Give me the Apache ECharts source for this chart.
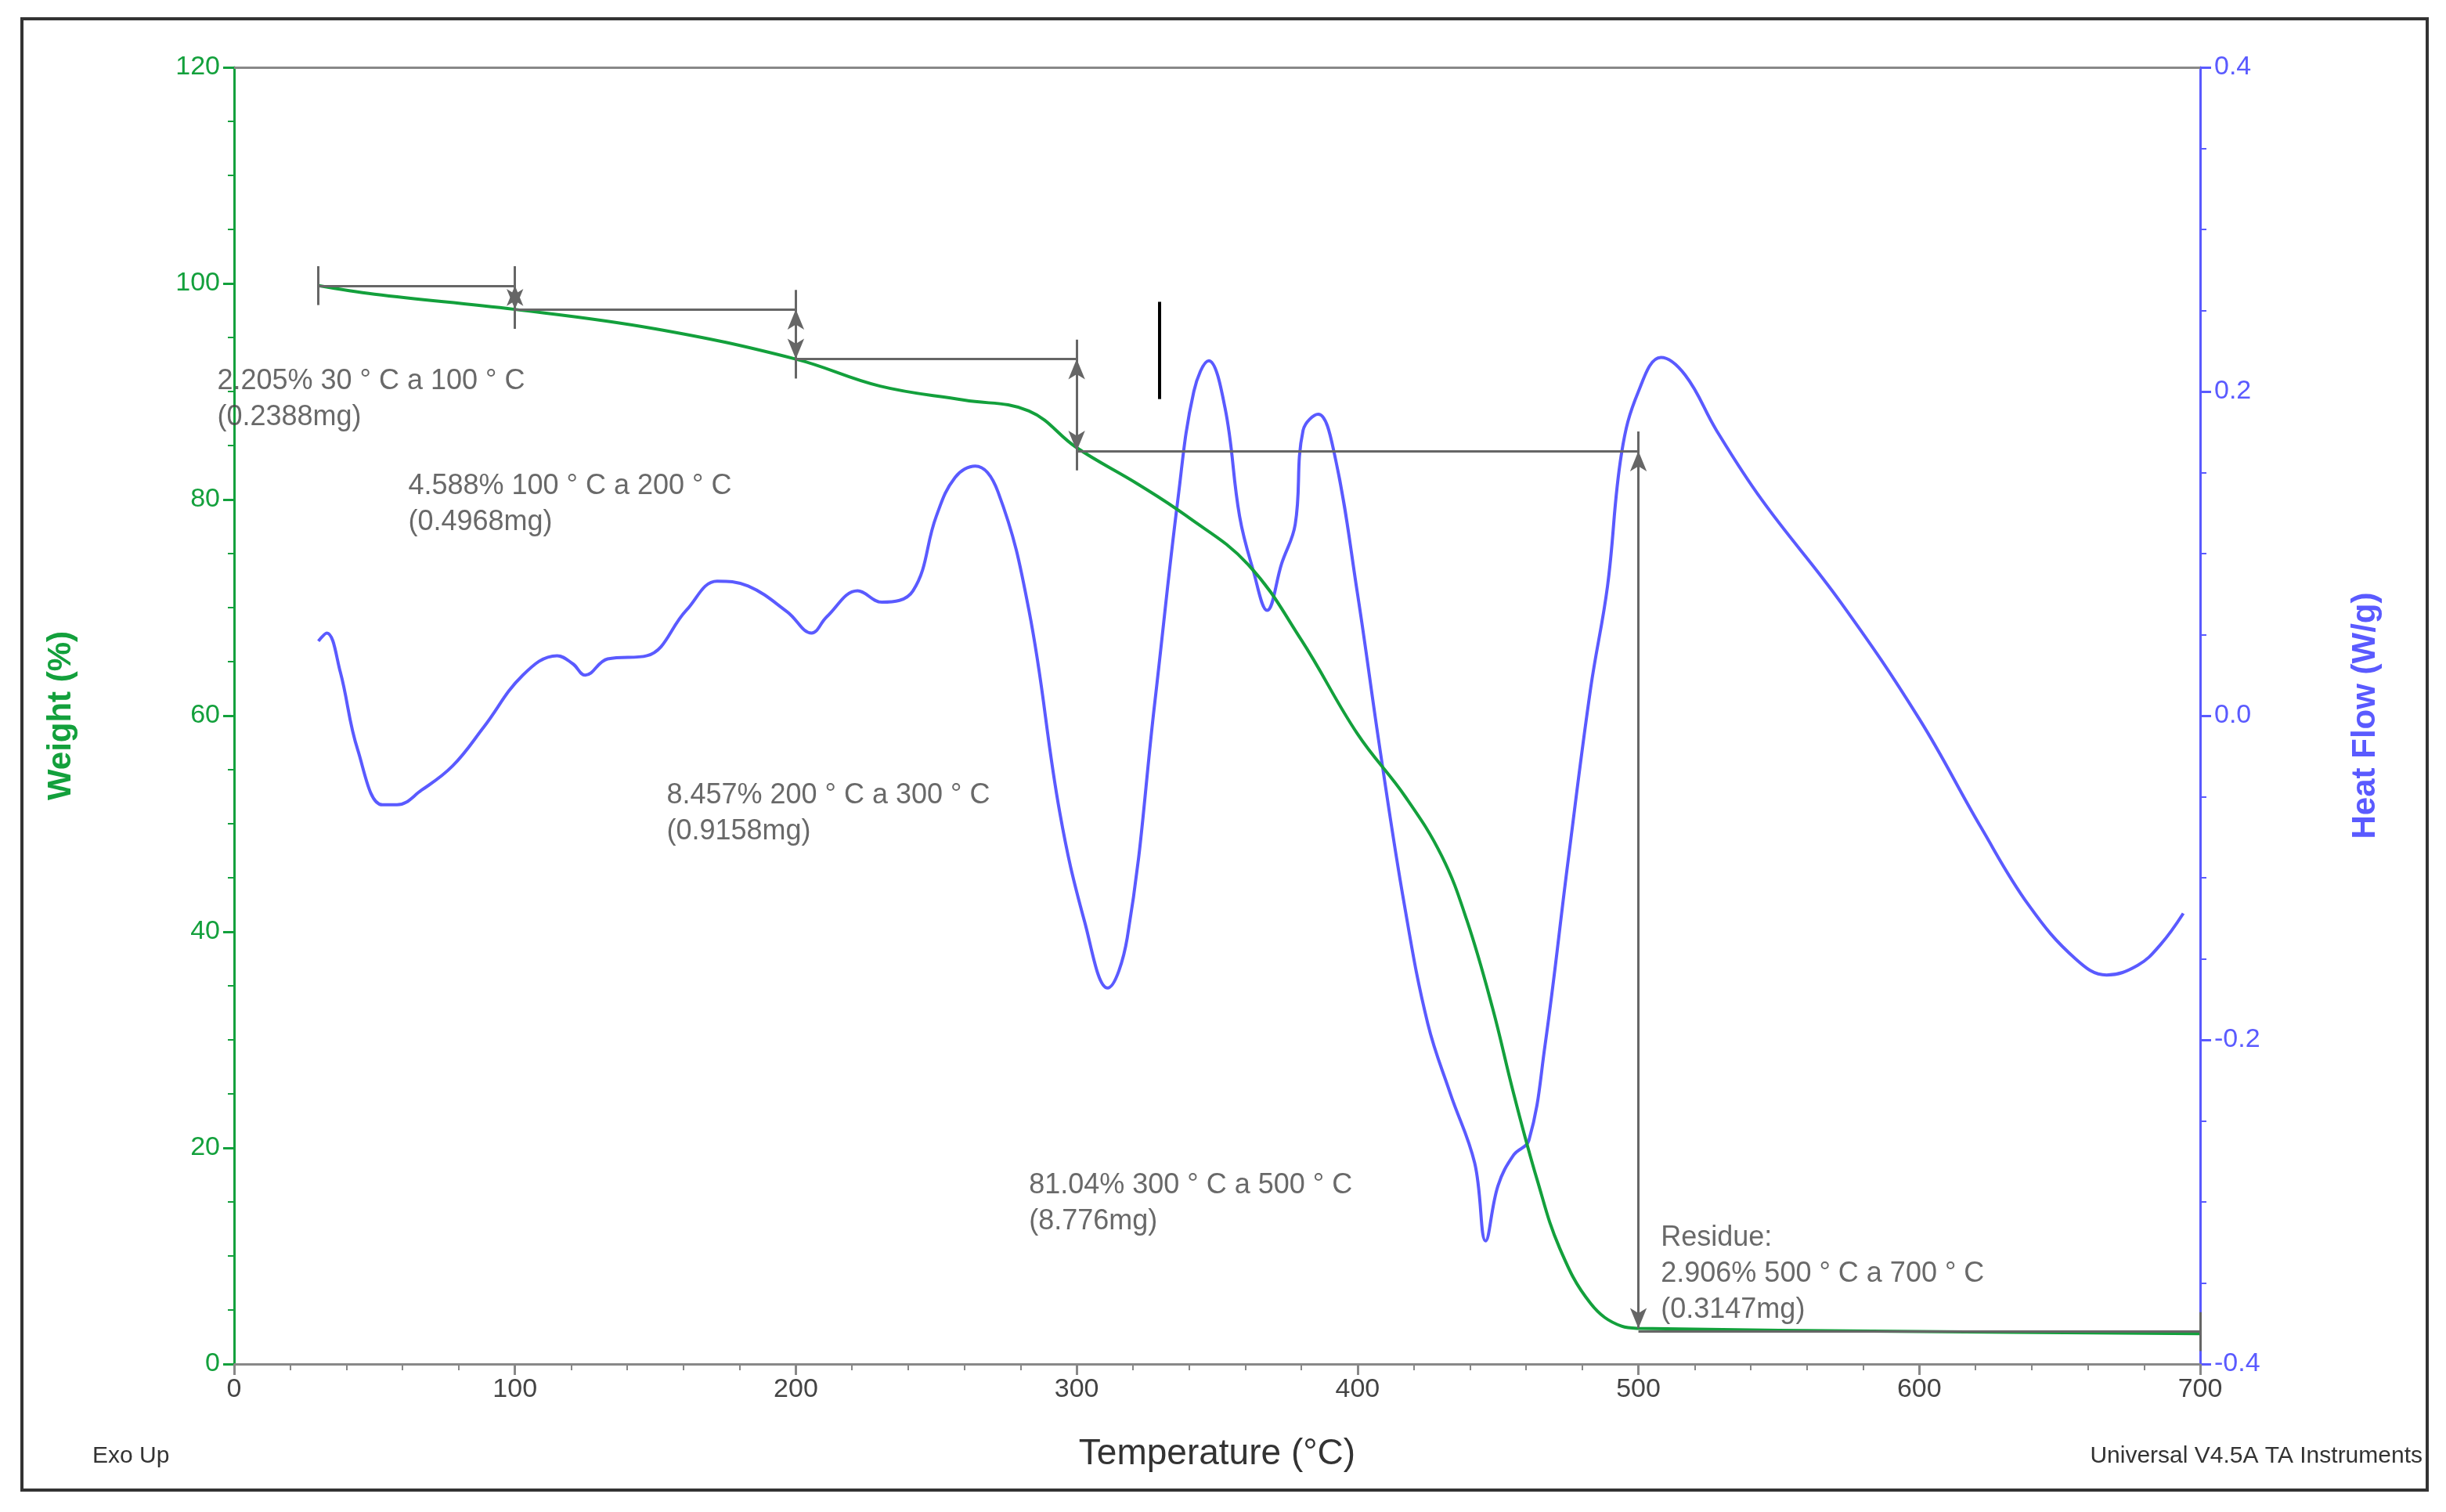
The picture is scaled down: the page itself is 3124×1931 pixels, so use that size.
<!DOCTYPE html>
<html><head><meta charset="utf-8">
<script src="https://cdn.jsdelivr.net/npm/echarts@6/dist/echarts.min.js"></script>
<style>html,body{margin:0;padding:0;background:#fff}#c{width:3124px;height:1931px}</style>
</head><body><div id="c"></div>
<script>
const weightData = [[30,99.8],[50,99.0],[100,97.6],[150,95.8],[200,93.0],[230,90.5],[260,89.2],[283,88.2],[300,84.8],[322,81.4],[339,78.5],[361,74],[380,67],[400,58.3],[417,52.5],[430,47],[439,41],[448,33],[455.6,25],[464,17],[472,10.7],[483,5.6],[494,3.5],[500,3.3],[600,3.0],[700,2.8]];
const heatData = [[30,0.046],[33,0.051],[37.8,0.027],[44,-0.021],[52.8,-0.055],[58,-0.055],[66.7,-0.046],[77.8,-0.031],[88.9,-0.007],[102.8,0.025],[115,0.037],[120.6,0.032],[125,0.025],[133,0.035],[147,0.037],[161,0.065],[172,0.083],[183,0.08],[197,0.064],[205.6,0.051],[211,0.061],[222,0.077],[230.6,0.07],[241.7,0.077],[250,0.123],[256.7,0.147],[263.9,0.154],[272,0.138],[283,0.065],[294,-0.06],[302.8,-0.127],[311,-0.168],[318,-0.137],[327.8,0.008],[336,0.133],[341.7,0.2],[347,0.219],[352.8,0.19],[358,0.123],[362.8,0.09],[367.8,0.065],[373,0.094],[377.8,0.118],[380.6,0.176],[386,0.186],[391.7,0.162],[400,0.075],[408,-0.021],[416.7,-0.117],[425,-0.19],[433,-0.233],[441.7,-0.276],[445.6,-0.324],[450,-0.29],[455.6,-0.271],[461,-0.262],[466.7,-0.204],[475,-0.089],[483,0.017],[489,0.08],[494,0.162],[500,0.2],[508,0.221],[516.7,0.21],[527.8,0.176],[544,0.133],[572,0.07],[600,-0.002],[622,-0.069],[639,-0.117],[655.6,-0.15],[666.7,-0.16],[677.8,-0.154],[686,-0.141],[694,-0.122]];
// step annotations: [fromT, toT, weight level]
const steps = [[30,100,99.8],[100,200,97.6],[200,300,93.0],[300,500,84.5],[500,700,3.0]];
// vertical arrows: [T, top weight, bottom weight]
const arrows = [[100,99.8,97.6],[200,97.6,93.0],[300,93.0,84.5],[500,84.5,3.3]];
const endTicks = [[30,99.8],[100,99.8],[100,97.6],[200,97.6],[200,93.0],[300,93.0],[300,84.5],[500,84.5],[700,3.0]];
const annotations = [
  [-6,92.6,'2.205% 30 ° C a 100 ° C\n(0.2388mg)'],
  [62,82.9,'4.588% 100 ° C a 200 ° C\n(0.4968mg)'],
  [154,54.3,'8.457% 200 ° C a 300 ° C\n(0.9158mg)'],
  [283,18.2,'81.04% 300 ° C a 500 ° C\n(8.776mg)'],
  [508,13.3,'Residue:\n2.906% 500 ° C a 700 ° C\n(0.3147mg)']
];
const marker = [[329.4,98.3],[329.4,89.3]];

const GREEN='#13a03c', BLUE='#5a5aff', GREY='#888';
const lines = [];
steps.forEach(s=>lines.push([{coord:[s[0],s[2]],symbol:'none'},{coord:[s[1],s[2]],symbol:'none'}]));
arrows.forEach(a=>lines.push([{coord:[a[0],a[1]],symbol:'arrow'},{coord:[a[0],a[2]],symbol:'arrow'}]));
endTicks.forEach(t=>lines.push([{coord:[t[0],t[1]+1.8],symbol:'none'},{coord:[t[0],t[1]-1.8],symbol:'none'}]));
lines.push([{coord:marker[0],symbol:'none',lineStyle:{color:'#000',width:4}},{coord:marker[1],symbol:'none'}]);

const chart = echarts.init(document.getElementById('c'));
chart.setOption({
  animation:false,
  grid:{left:299,right:314,top:86,bottom:189},
  graphic:[{type:'rect',shape:{x:28,y:24,width:3072,height:1879},style:{fill:'none',stroke:'#333',lineWidth:4}},
    {type:'text',left:118,top:1845,style:{text:'Exo Up',font:'30px Liberation Sans',fill:'#333'}},
    {type:'text',right:30,top:1845,style:{text:'Universal V4.5A TA Instruments',font:'30px Liberation Sans',fill:'#333'}}],
  xAxis:[{type:'value',min:0,max:700,interval:100,name:'Temperature (°C)',nameLocation:'middle',nameGap:92,
    nameTextStyle:{fontSize:46,color:'#333',fontFamily:'Liberation Sans'},
    axisLine:{onZero:false,lineStyle:{color:GREY,width:3}},axisTick:{length:14,lineStyle:{color:GREY,width:3}},
    minorTick:{show:true,splitNumber:5,length:8,lineStyle:{color:GREY,width:2}},
    axisLabel:{fontSize:34,color:'#444',margin:16,fontFamily:'Liberation Sans'},splitLine:{show:false}},
    {type:'value',position:'top',min:0,max:700,axisLine:{show:true,onZero:false,lineStyle:{color:GREY,width:3}},axisTick:{show:false},axisLabel:{show:false},splitLine:{show:false}}],
  yAxis:[{type:'value',min:0,max:120,interval:20,name:'Weight (%)',nameLocation:'middle',nameGap:200,
    nameTextStyle:{fontSize:42,color:GREEN,fontWeight:'bold',fontFamily:'Liberation Sans'},
    axisLine:{show:true,onZero:false,lineStyle:{color:GREEN,width:3}},axisTick:{show:true,length:14,lineStyle:{color:GREEN,width:3}},
    minorTick:{show:true,splitNumber:4,length:8,lineStyle:{color:GREEN,width:2}},
    axisLabel:{fontSize:34,color:GREEN,margin:18,fontFamily:'Liberation Sans'},splitLine:{show:false}},
   {type:'value',min:-0.4,max:0.4,interval:0.2,position:'right',name:'Heat Flow (W/g)',nameLocation:'middle',nameGap:190,nameRotate:90,
    nameTextStyle:{fontSize:42,color:BLUE,fontWeight:'bold',fontFamily:'Liberation Sans'},
    axisLine:{show:true,onZero:false,lineStyle:{color:BLUE,width:3}},axisTick:{show:true,length:14,lineStyle:{color:BLUE,width:3}},
    minorTick:{show:true,splitNumber:4,length:8,lineStyle:{color:BLUE,width:2}},
    axisLabel:{fontSize:34,color:BLUE,margin:18,fontFamily:'Liberation Sans',formatter:v=>v.toFixed(1)},splitLine:{show:false}}],
  series:[
    {type:'line',yAxisIndex:1,data:heatData,smooth:0.4,showSymbol:false,lineStyle:{color:BLUE,width:4},z:2},
    {type:'line',yAxisIndex:0,data:weightData,smooth:0.4,showSymbol:false,lineStyle:{color:GREEN,width:4},z:3,
      markLine:{silent:true,symbolSize:[16,26],label:{show:false},lineStyle:{color:'#666',type:'solid',width:3},data:lines}},
    {type:'scatter',yAxisIndex:0,symbolSize:0,clip:false,data:annotations.map(a=>({value:[a[0],a[1]],label:{formatter:a[2]}})),
      label:{show:true,position:'right',distance:0,align:'left',verticalAlign:'top',fontSize:36,lineHeight:46,color:'#444',fontFamily:'Liberation Sans'},z:5}
  ]
});
</script></body></html>
